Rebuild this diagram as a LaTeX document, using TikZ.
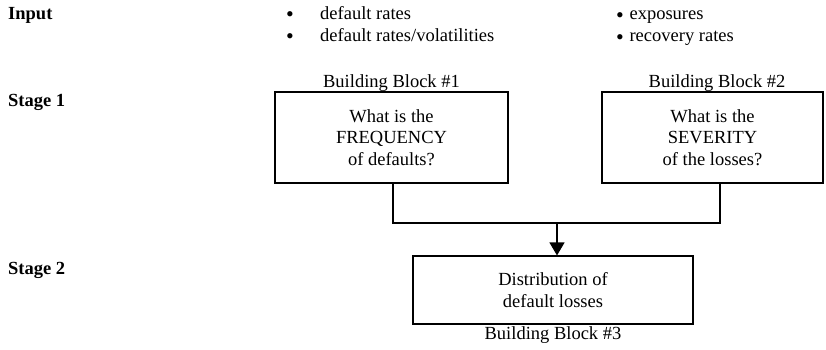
\documentclass[tikz,border=0pt]{standalone}
\usepackage{fontspec}
\setmainfont{Liberation Serif}
\usetikzlibrary{arrows.meta}
\newcommand{\bigbul}{{\fontsize{22}{22}\selectfont •}}
\begin{document}
\begin{tikzpicture}[x=1pt,y=-1pt,
  txt/.style={font=\fontsize{18.5}{22.5}\selectfont, inner sep=0pt, anchor=base},
  lbl/.style={font=\fontsize{18.5}{22.5}\selectfont\bfseries, inner sep=0pt, anchor=base west},
  blk/.style={draw, line width=1.1pt, font=\fontsize{18.5}{21.5}\selectfont, align=center, inner sep=0pt},
  conn/.style={line width=1.1pt}
]
\useasboundingbox (0,0) rectangle (826,349);
\node[lbl] (inp) at (8,19) {Input};
\node[lbl] (s1) at (8,106) {Stage 1};
\node[lbl] (s2) at (8,274) {Stage 2};

\node[txt] (b1a) at (290,21.2) {\bigbul};
\node[txt, anchor=base west] (t1a) at (320,19) {default rates};
\node[txt] (b1b) at (290,43.5) {\bigbul};
\node[txt, anchor=base west] (t1b) at (320,41) {default rates/volatilities};
\node[txt, anchor=base west] (t2a) at (616,19) {\raisebox{-3.5pt}{\bigbul}\hspace{1pt} exposures};
\node[txt, anchor=base west] (t2b) at (616,41) {\raisebox{-3.5pt}{\bigbul}\hspace{1pt} recovery rates};

\node[txt] (bb1) at (391.5,87) {Building Block \#1};
\node[txt] (bb2) at (717,87) {Building Block \#2};
\node[txt] (bb3) at (553,339) {Building Block \#3};

\node[blk, minimum width=233pt, minimum height=91pt] (box1) at (391.5,137.5)
  {What is the\\FREQUENCY\\of defaults?};
\node[blk, minimum width=221pt, minimum height=91pt] (box2) at (712.5,137.5)
  {What is the\\SEVERITY\\of the losses?};
\node[blk, minimum width=280pt, minimum height=68pt] (box3) at (553,290)
  {Distribution of\\default losses};

\coordinate (j1) at (393,223);
\coordinate (j2) at (720,223);
\coordinate (jm) at (557,223);
\draw[conn] (box1.south -| j1) -- (j1) -- (j2) -- (box2.south -| j2);
\draw[conn, -{Triangle[length=13pt,width=15pt]}] (jm) -- (box3.north -| jm);
\end{tikzpicture}
\end{document}
